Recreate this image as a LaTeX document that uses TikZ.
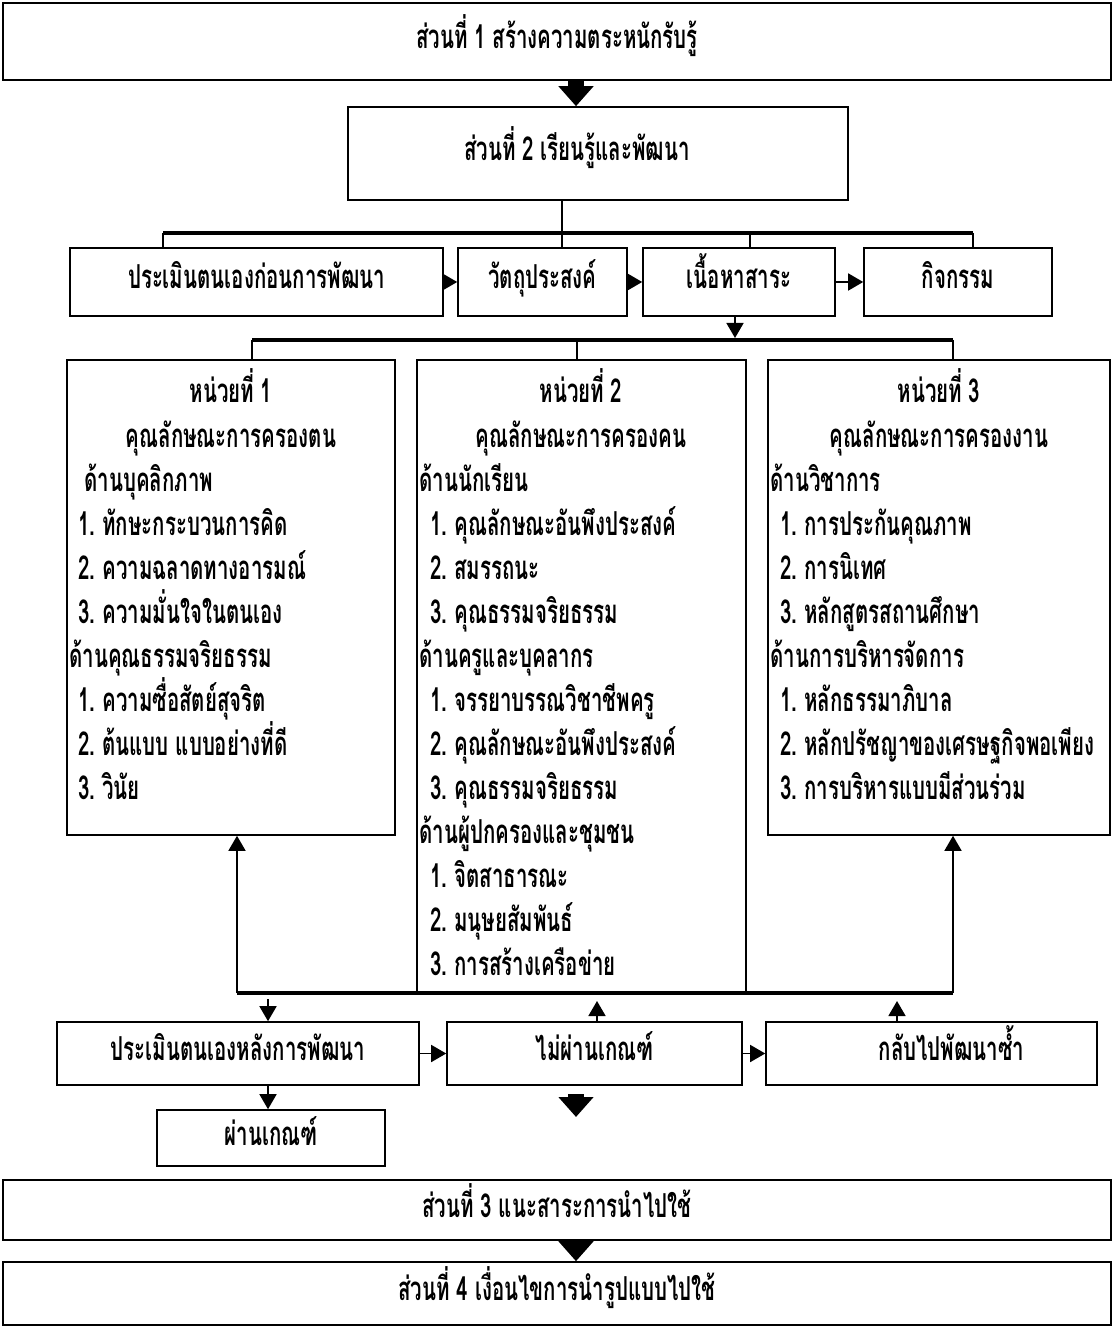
\documentclass[tikz,border=0pt]{standalone}
\usepackage{fontspec}
\usetikzlibrary{arrows.meta}
\newfontfamily\thaifont[Script=Thai,FakeStretch=0.62]{Loma}
\newcommand\itm[1]{#1.\hspace{3.5pt}}
\begin{document}
\begin{tikzpicture}[x=0.5pt,y=-0.5pt,
  font=\thaifont\bfseries\fontsize{16.5pt}{19pt}\selectfont,
  box/.style={draw, line width=0.8pt, rectangle, inner sep=0pt, text height=10pt, text depth=3pt},
  wh/.style 2 args={minimum width=#1*0.5pt, minimum height=#2*0.5pt},
  ut/.style={inner sep=0pt, anchor=base west},
  uh/.style={inner sep=0pt, anchor=base},
  vline/.style={line width=1pt},
  bar/.style={line width=2pt},
  tri/.style={line width=0.8pt, -{Triangle[width=8.5pt,length=7.5pt]}},
  bigarrow/.style={line width=8pt, -{Triangle[width=17pt,length=10pt]}}]
\useasboundingbox (0,0) rectangle (1114,1331);
% main boxes
\node[box, wh={1108}{77}] (s1) at (557,41.5) {ส่วนที่ 1 สร้างความตระหนักรับรู้};
\node[box, wh={500}{93}] (s2) at (598,153.5) {\hspace*{-21pt}ส่วนที่ 2 เรียนรู้และพัฒนา};
\node[box, wh={373}{68}] (pre) at (256.5,282) {ประเมินตนเองก่อนการพัฒนา};
\node[box, wh={169}{68}] (obj) at (542.5,282) {วัตถุประสงค์};
\node[box, wh={192}{68}] (con) at (739,282) {เนื้อหาสาระ};
\node[box, wh={188}{68}] (act) at (958,282) {กิจกรรม};
\node[box, wh={328}{475}] (u1) at (231,597.5) {};
\node[box, wh={329}{633}] (u2) at (581.5,676.5) {};
\node[box, wh={342}{475}] (u3) at (939,597.5) {};
\node[box, wh={362}{63}] (post) at (238,1053.5) {ประเมินตนเองหลังการพัฒนา};
\node[box, wh={295}{63}] (fail) at (594.5,1053.5) {ไม่ผ่านเกณฑ์};
\node[box, wh={331}{63}] (redo) at (931.5,1053.5) {\hspace*{20pt}กลับไปพัฒนาซ้ำ};
\node[box, wh={228}{56}] (pass) at (271,1138) {ผ่านเกณฑ์};
\node[box, wh={1108}{60}] (s3) at (557,1210) {ส่วนที่ 3 แนะสาระการนำไปใช้};
\node[box, wh={1108}{63}] (s4) at (557,1293.5) {ส่วนที่ 4 เงื่อนไขการนำรูปแบบไปใช้};
% unit 1 text
\node[uh] (u1h1) at (231,403) {หน่วยที่ 1};
\node[uh] (u1h2) at (231,447) {คุณลักษณะการครองตน};
\node[ut] (u1a) at (84,491) {ด้านบุคลิกภาพ};
\node[ut] (u1a1) at (78,535) {\itm{1}ทักษะกระบวนการคิด};
\node[ut] (u1a2) at (78,579) {\itm{2}ความฉลาดทางอารมณ์};
\node[ut] (u1a3) at (78,623) {\itm{3}ความมั่นใจในตนเอง};
\node[ut] (u1b) at (69,667) {ด้านคุณธรรมจริยธรรม};
\node[ut] (u1b1) at (78,711) {\itm{1}ความซื่อสัตย์สุจริต};
\node[ut] (u1b2) at (78,755) {\itm{2}ต้นแบบ แบบอย่างที่ดี};
\node[ut] (u1b3) at (78,799) {\itm{3}วินัย};
% unit 2 text
\node[uh] (u2h1) at (581,403) {หน่วยที่ 2};
\node[uh] (u2h2) at (581,447) {คุณลักษณะการครองคน};
\node[ut] (u2a) at (419,491) {ด้านนักเรียน};
\node[ut] (u2a1) at (430,535) {\itm{1}คุณลักษณะอันพึงประสงค์};
\node[ut] (u2a2) at (430,579) {\itm{2}สมรรถนะ};
\node[ut] (u2a3) at (430,623) {\itm{3}คุณธรรมจริยธรรม};
\node[ut] (u2b) at (419,667) {ด้านครูและบุคลากร};
\node[ut] (u2b1) at (430,711) {\itm{1}จรรยาบรรณวิชาชีพครู};
\node[ut] (u2b2) at (430,755) {\itm{2}คุณลักษณะอันพึงประสงค์};
\node[ut] (u2b3) at (430,799) {\itm{3}คุณธรรมจริยธรรม};
\node[ut] (u2c) at (419,843) {ด้านผู้ปกครองและชุมชน};
\node[ut] (u2c1) at (430,887) {\itm{1}จิตสาธารณะ};
\node[ut] (u2c2) at (430,931) {\itm{2}มนุษยสัมพันธ์};
\node[ut] (u2c3) at (430,975) {\itm{3}การสร้างเครือข่าย};
% unit 3 text
\node[uh] (u3h1) at (939,403) {หน่วยที่ 3};
\node[uh] (u3h2) at (939,447) {คุณลักษณะการครองงาน};
\node[ut] (u3a) at (770,491) {ด้านวิชาการ};
\node[ut] (u3a1) at (780,535) {\itm{1}การประกันคุณภาพ};
\node[ut] (u3a2) at (780,579) {\itm{2}การนิเทศ};
\node[ut] (u3a3) at (780,623) {\itm{3}หลักสูตรสถานศึกษา};
\node[ut] (u3b) at (770,667) {ด้านการบริหารจัดการ};
\node[ut] (u3b1) at (780,711) {\itm{1}หลักธรรมาภิบาล};
\node[ut] (u3b2) at (780,755) {\itm{2}หลักปรัชญาของเศรษฐกิจพอเพียง};
\node[ut] (u3b3) at (780,799) {\itm{3}การบริหารแบบมีส่วนร่วม};
% coordinates
\coordinate (ax) at (576,0);
\coordinate (sx) at (562,0);
\coordinate (b1) at (163,233);
\coordinate (b2) at (973,233);
\coordinate (b3) at (750,233);
\coordinate (cx) at (735,340);
\coordinate (c1) at (252,340);
\coordinate (c2) at (953,340);
\coordinate (c3) at (577,340);
\coordinate (f1) at (237,993);
\coordinate (f2) at (953,993);
\coordinate (g1) at (268,993);
\coordinate (g2) at (597,993);
\coordinate (g3) at (897,993);
\coordinate (h1) at (576,1094);
\coordinate (h2) at (576,1117);
% connectors
\draw[bigarrow] (s1.south -| ax) -- (s2.north -| ax);
\draw[vline] (s2.south -| sx) -- (obj.north -| sx);
\draw[bar] (b1) -- (b2);
\draw[vline] (b1) -- (pre.north -| b1);
\draw[vline] (b3) -- (con.north -| b3);
\draw[vline] (b2) -- (act.north -| b2);
\draw[tri] (pre) -- (obj);
\draw[tri] (obj) -- (con);
\draw[tri] (con) -- (act);
\draw[tri, shorten >=1pt] (con.south -| cx) -- (cx);
\draw[bar] (c1) -- (c2);
\draw[vline] (c1) -- (u1.north -| c1);
\draw[vline] (c3) -- (u2.north -| c3);
\draw[vline] (c2) -- (u3.north -| c2);
\draw[bar] (f1) -- (f2);
\draw[tri] (f1) -- (u1.south -| f1);
\draw[tri] (f2) -- (u3.south -| f2);
\draw[tri, shorten <=3pt] (g1) -- (post.north -| g1);
\draw[tri, shorten >=4pt] (fail.north -| g2) -- (g2);
\draw[tri, shorten >=4pt] (redo.north -| g3) -- (g3);
\draw[tri] (post) -- (fail);
\draw[tri] (fail) -- (redo);
\draw[tri] (post.south -| g1) -- (pass.north -| g1);
\draw[bigarrow] (h1) -- (h2);
\draw[bigarrow] (s3.south -| ax) -- (s4.north -| ax);
\end{tikzpicture}
\end{document}
